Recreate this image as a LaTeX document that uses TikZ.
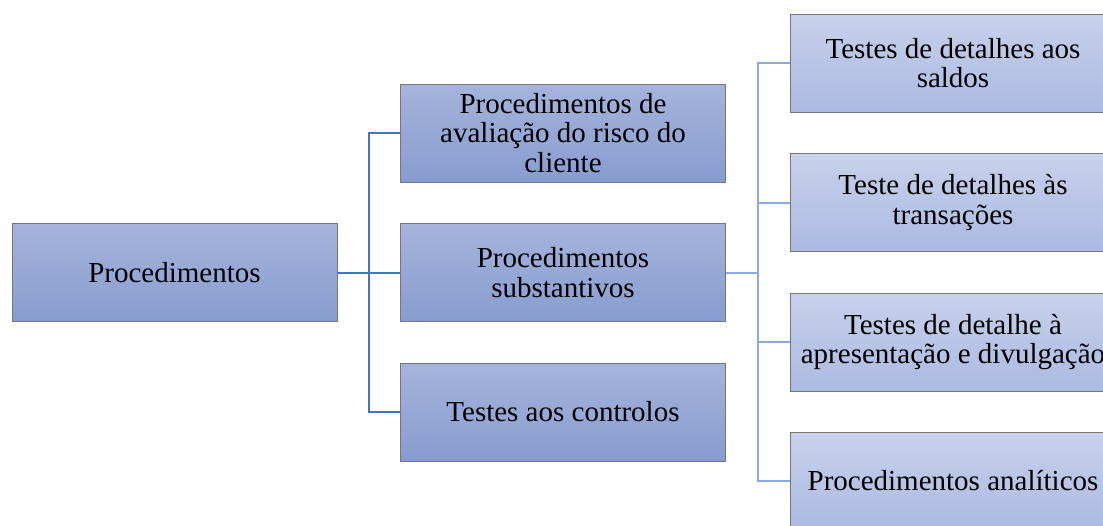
\documentclass[tikz,border=0pt]{standalone}
\usepackage{fontspec}
\setmainfont{Liberation Serif}
\definecolor{darkline}{HTML}{4472C4}
\definecolor{lightline}{HTML}{8FAADC}
\definecolor{boxtop}{HTML}{A6B4DC}
\definecolor{boxbot}{HTML}{879CD0}
\definecolor{rboxtop}{HTML}{C9D1EB}
\definecolor{rboxbot}{HTML}{AABAE1}
\definecolor{boxedge}{HTML}{767676}
\tikzset{
  basebox/.style={draw=boxedge, line width=0.9pt, rectangle, inner sep=0pt,
    minimum width=325pt, minimum height=98pt, align=center,
    font=\fontsize{29}{29.5}\selectfont, text=black},
  midbox/.style={basebox, top color=boxtop, bottom color=boxbot},
  rightbox/.style={basebox, minimum width=326pt, top color=rboxtop, bottom color=rboxbot},
  darkconn/.style={draw=darkline, line width=2pt},
  lightconn/.style={draw=lightline, line width=2pt},
}
\begin{document}
\begin{tikzpicture}[x=1pt,y=-1pt]
\useasboundingbox (0,0) rectangle (1103,525);
\clip (0,0) rectangle (1103,525);
\fill[white] (0,0) rectangle (1103,525);
% connectors
\coordinate (j1) at (369,272.5);
\coordinate (j2) at (758,272.5);
\node[midbox] (root) at (174.5,272.5) {Procedimentos};
\node[midbox] (m1) at (563,133) {Procedimentos de\\avaliação do risco do\\cliente};
\node[midbox] (m2) at (563,272.5) {Procedimentos\\substantivos};
\node[midbox] (m3) at (563,412) {Testes aos controlos};
\node[rightbox] (r1) at (953,63) {Testes de detalhes aos\\saldos};
\node[rightbox] (r2) at (953,202.5) {Teste de detalhes às\\transações};
\node[rightbox] (r3) at (953,342) {Testes de detalhe à\\apresentação e divulgação};
\node[rightbox] (r4) at (953,481) {Procedimentos analíticos};
\draw[darkconn] (root.east) -- (m2.west);
\draw[darkconn] (m1.west) -| (j1) |- (m3.west);
\draw[lightconn] (m2.east) -- (j2);
\draw[lightconn] (r1.west) -| (j2) |- (r4.west);
\draw[lightconn] (j2) |- (r2.west);
\draw[lightconn] (j2) |- (r3.west);
\end{tikzpicture}
\end{document}
